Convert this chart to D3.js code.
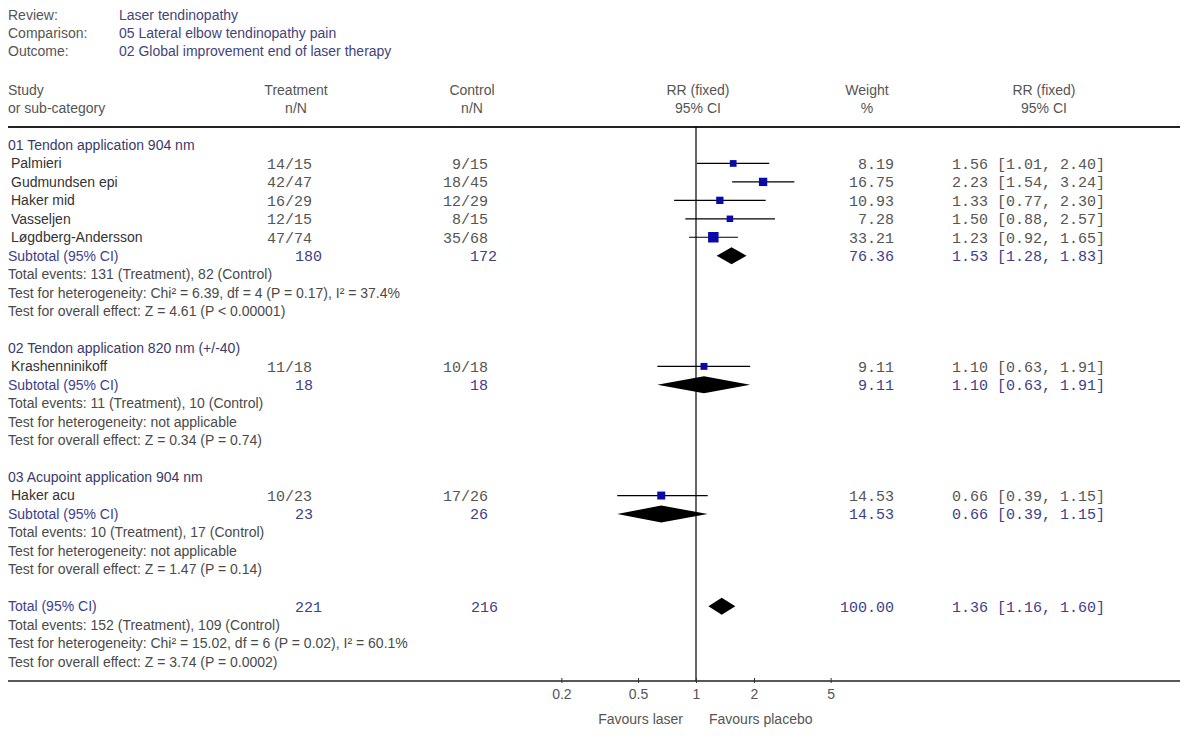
<!DOCTYPE html>
<html>
<head>
<meta charset="utf-8">
<script src="https://cdn.jsdelivr.net/npm/d3@7"></script>
<style>
  html, body { margin: 0; padding: 0; background: #ffffff; }
  svg { display: block; }
  .sans { font-family: "Liberation Sans", Arial, sans-serif; font-size: 14px; }
  .mono { font-family: "Liberation Mono", "Courier New", monospace; font-size: 15px; }
</style>
</head>
<body>
<svg id="chart" width="1200" height="739"></svg>
<script>
// ---------- data ----------
const metaLabels = ["Review:", "Comparison:", "Outcome:"];
const metaValues = ["Laser tendinopathy", "05 Lateral elbow tendinopathy pain", "02 Global improvement end of laser therapy"];

const groupNames = ["01 Tendon application 904 nm", "02 Tendon application 820 nm (+/-40)", "03 Acupoint application 904 nm"];

const studies   = ["Palmieri", "Gudmundsen epi", "Haker mid", "Vasseljen", "Løgdberg-Andersson", "Krashenninikoff", "Haker acu"];
const studyGroup = [0, 0, 0, 0, 0, 1, 2];
const treatNN   = ["14/15", "42/47", "16/29", "12/15", "47/74", "11/18", "10/23"];
const controlNN = ["9/15", "18/45", "12/29", "8/15", "35/68", "10/18", "17/26"];
const weights   = [8.19, 16.75, 10.93, 7.28, 33.21, 9.11, 14.53];
const rr        = [1.56, 2.23, 1.33, 1.50, 1.23, 1.10, 0.66];
const rrLow     = [1.01, 1.54, 0.77, 0.88, 0.92, 0.63, 0.39];
const rrHigh    = [2.40, 3.24, 2.30, 2.57, 1.65, 1.91, 1.15];

const subTreatN  = [180, 18, 23];
const subCtrlN   = [172, 18, 26];
const subWeight  = [76.36, 9.11, 14.53];
const subRR      = [1.53, 1.10, 0.66];
const subLow     = [1.28, 0.63, 0.39];
const subHigh    = [1.83, 1.91, 1.15];
const subEvents  = ["Total events: 131 (Treatment), 82 (Control)", "Total events: 11 (Treatment), 10 (Control)", "Total events: 10 (Treatment), 17 (Control)"];
const subHetero  = ["Test for heterogeneity: Chi\u00B2 = 6.39, df = 4 (P = 0.17), I\u00B2 = 37.4%", "Test for heterogeneity: not applicable", "Test for heterogeneity: not applicable"];
const subEffect  = ["Test for overall effect: Z = 4.61 (P < 0.00001)", "Test for overall effect: Z = 0.34 (P = 0.74)", "Test for overall effect: Z = 1.47 (P = 0.14)"];

const totalTreatN = 221, totalCtrlN = 216, totalWeight = 100.00;
const totalRR = 1.36, totalLow = 1.16, totalHigh = 1.60;
const totalTexts = ["Total events: 152 (Treatment), 109 (Control)", "Test for heterogeneity: Chi\u00B2 = 15.02, df = 6 (P = 0.02), I\u00B2 = 60.1%", "Test for overall effect: Z = 3.74 (P = 0.0002)"];

const tickValues = [0.2, 0.5, 1, 2, 5];
const favours = ["Favours laser", "Favours placebo"];

// ---------- layout ----------
const svg = d3.select("#chart");
const grayText = "#4a4a4a";
const monoGray = "#555555";
const blueText = "#3e3e8c";
const markBlue = "#0a0aa8";

const x = d3.scaleLog().domain([0.1, 10]).range([503.4, 888.6]);
const y0 = 145, rowH = 18.45;
const rowY = i => y0 + i * rowH;
const sizeScale = d3.scaleSqrt().domain([0, 100]).range([3, 16]);
const f2 = d3.format(".2f");
const ciText = (a, b, c) => `${f2(a)} [${f2(b)}, ${f2(c)}]`;

// Build rows
const rows = [];
let r = 0;
groupNames.forEach((g, gi) => {
  rows.push({type: "group", row: r++, label: g});
  studies.forEach((s, si) => {
    if (studyGroup[si] === gi) rows.push({type: "study", row: r++, idx: si});
  });
  rows.push({type: "sub", row: r++, gi});
  rows.push({type: "text", row: r++, label: subEvents[gi]});
  rows.push({type: "text", row: r++, label: subHetero[gi]});
  rows.push({type: "text", row: r++, label: subEffect[gi]});
  r++; // blank
});
rows.push({type: "total", row: r++});
totalTexts.forEach(t => rows.push({type: "text", row: r++, label: t}));

// Meta header
const meta = svg.append("g").attr("class", "sans");
metaLabels.forEach((l, i) => {
  meta.append("text").attr("x", 8).attr("y", 15 + i * 18).attr("dy", "0.35em").attr("fill", "#555").text(l);
  meta.append("text").attr("x", 119).attr("y", 15 + i * 18).attr("dy", "0.35em").attr("fill", "#44447a").text(metaValues[i]);
});

// Column headers
const hdr = svg.append("g").attr("class", "sans").attr("fill", "#555");
const colHead = [
  {x: 8, a: "start", t: ["Study", "or sub-category"]},
  {x: 296, a: "middle", t: ["Treatment", "n/N"]},
  {x: 472, a: "middle", t: ["Control", "n/N"]},
  {x: 698, a: "middle", t: ["RR (fixed)", "95% CI"]},
  {x: 867, a: "middle", t: ["Weight", "%"]},
  {x: 1044, a: "middle", t: ["RR (fixed)", "95% CI"]}
];
colHead.forEach(c => {
  c.t.forEach((t, i) => hdr.append("text").attr("x", c.x).attr("y", 90 + i * 18).attr("dy", "0.35em").attr("text-anchor", c.a).text(t));
});

// Frame lines
svg.append("line").attr("x1", 8).attr("x2", 1180).attr("y1", 127).attr("y2", 127).attr("stroke", "#222").attr("stroke-width", 2);
svg.append("line").attr("x1", 8).attr("x2", 1180).attr("y1", 681).attr("y2", 681).attr("stroke", "#222").attr("stroke-width", 1.5);
svg.append("line").attr("x1", x(1)).attr("x2", x(1)).attr("y1", 127).attr("y2", 681).attr("stroke", "#000").attr("stroke-width", 1.2);

const body = svg.append("g");
function diamond(g, y, lo, mid, hi, h) {
  const p = d3.path();
  p.moveTo(x(lo), y); p.lineTo(x(mid), y - h / 2); p.lineTo(x(hi), y); p.lineTo(x(mid), y + h / 2); p.closePath();
  g.append("path").attr("d", p.toString()).attr("fill", "#000");
}

rows.forEach(d => {
  const y = rowY(d.row);
  if (d.type === "group") {
    body.append("text").attr("class", "sans").attr("x", 8).attr("y", y).attr("dy", "0.35em").attr("fill", "#3a3a6a").text(d.label);
  } else if (d.type === "text") {
    body.append("text").attr("class", "sans").attr("x", 8).attr("y", y).attr("dy", "0.35em").attr("fill", grayText).text(d.label);
  } else if (d.type === "study") {
    const i = d.idx;
    body.append("text").attr("class", "sans").attr("x", 11).attr("y", y).attr("dy", "0.35em").attr("fill", "#333").text(studies[i]);
    body.append("text").attr("class", "mono").attr("x", 312).attr("y", y).attr("dy", "0.35em").attr("text-anchor", "end").attr("fill", monoGray).text(treatNN[i]);
    body.append("text").attr("class", "mono").attr("x", 488).attr("y", y).attr("dy", "0.35em").attr("text-anchor", "end").attr("fill", monoGray).text(controlNN[i]);
    body.append("text").attr("class", "mono").attr("x", 894).attr("y", y).attr("dy", "0.35em").attr("text-anchor", "end").attr("fill", monoGray).text(f2(weights[i]));
    body.append("text").attr("class", "mono").attr("x", 952).attr("y", y).attr("dy", "0.35em").attr("fill", monoGray).text(ciText(rr[i], rrLow[i], rrHigh[i]));
    body.append("line").attr("x1", x(rrLow[i])).attr("x2", x(rrHigh[i])).attr("y1", y).attr("y2", y).attr("stroke", "#000").attr("stroke-width", 1.2);
    const s = sizeScale(weights[i]);
    body.append("rect").attr("x", x(rr[i]) - s / 2).attr("y", y - s / 2).attr("width", s).attr("height", s).attr("fill", markBlue);
  } else if (d.type === "sub") {
    const gi = d.gi;
    body.append("text").attr("class", "sans").attr("x", 8).attr("y", y).attr("dy", "0.35em").attr("fill", blueText).text("Subtotal (95% CI)");
    body.append("text").attr("class", "mono").attr("x", 295).attr("y", y).attr("dy", "0.35em").attr("fill", blueText).text(subTreatN[gi]);
    body.append("text").attr("class", "mono").attr("x", 470).attr("y", y).attr("dy", "0.35em").attr("fill", blueText).text(subCtrlN[gi]);
    body.append("text").attr("class", "mono").attr("x", 894).attr("y", y).attr("dy", "0.35em").attr("text-anchor", "end").attr("fill", blueText).text(f2(subWeight[gi]));
    body.append("text").attr("class", "mono").attr("x", 952).attr("y", y).attr("dy", "0.35em").attr("fill", blueText).text(ciText(subRR[gi], subLow[gi], subHigh[gi]));
    diamond(body, y, subLow[gi], subRR[gi], subHigh[gi], 17);
  } else if (d.type === "total") {
    body.append("text").attr("class", "sans").attr("x", 8).attr("y", y).attr("dy", "0.35em").attr("fill", blueText).text("Total (95% CI)");
    body.append("text").attr("class", "mono").attr("x", 295).attr("y", y).attr("dy", "0.35em").attr("fill", blueText).text(totalTreatN);
    body.append("text").attr("class", "mono").attr("x", 471).attr("y", y).attr("dy", "0.35em").attr("fill", blueText).text(totalCtrlN);
    body.append("text").attr("class", "mono").attr("x", 894).attr("y", y).attr("dy", "0.35em").attr("text-anchor", "end").attr("fill", blueText).text(f2(totalWeight));
    body.append("text").attr("class", "mono").attr("x", 952).attr("y", y).attr("dy", "0.35em").attr("fill", blueText).text(ciText(totalRR, totalLow, totalHigh));
    diamond(body, y, totalLow, totalRR, totalHigh, 17);
  }
});

// Axis
const axis = d3.axisBottom(x).tickValues(tickValues).tickFormat(d3.format("")).tickSizeInner(3).tickSizeOuter(0).tickPadding(6);
const ag = svg.append("g").attr("transform", "translate(0,680)").call(axis);
ag.select(".domain").remove();
ag.selectAll(".tick line").attr("stroke", "#333").attr("y1", -2);
ag.selectAll(".tick text").attr("font-family", "Liberation Sans, Arial, sans-serif").attr("font-size", 14).attr("fill", "#555");

svg.append("text").attr("class", "sans").attr("x", 683).attr("y", 719).attr("dy", "0.35em").attr("text-anchor", "end").attr("fill", "#555").text(favours[0]);
svg.append("text").attr("class", "sans").attr("x", 709).attr("y", 719).attr("dy", "0.35em").attr("fill", "#555").text(favours[1]);
</script>
</body>
</html>
